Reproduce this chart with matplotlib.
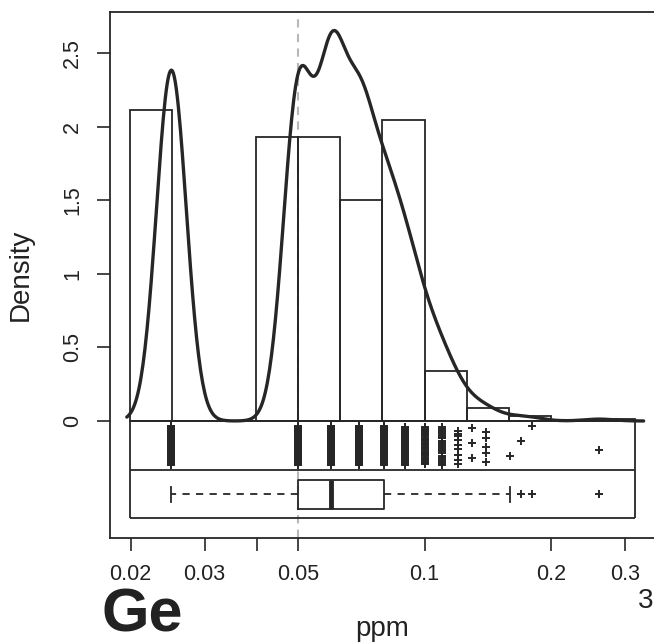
import numpy as np
import matplotlib
matplotlib.use("Agg")
import matplotlib.pyplot as plt
from matplotlib import cbook
from matplotlib.ticker import NullLocator

plt.rcParams['font.family'] = ['Liberation Sans', 'DejaVu Sans']

# ---------------- data ----------------
ppm_values = [0.025, 0.05, 0.06, 0.07, 0.08, 0.09, 0.10, 0.11, 0.12,
              0.13, 0.14, 0.16, 0.17, 0.18, 0.26]
ppm_counts = [186, 170, 170, 132, 87, 62, 31, 21, 9, 3, 5, 1, 1, 1, 1]
bin_edges_log10 = [-1.7, -1.6, -1.5, -1.4, -1.3, -1.2, -1.1, -1.0,
                   -0.9, -0.8, -0.7, -0.6, -0.5]
reference_ppm = 0.05
x_ticks = [0.02, 0.03, 0.04, 0.05, 0.1, 0.2, 0.3]
x_tick_labels = ['0.02', '0.03', '', '0.05', '0.1', '0.2', '0.3']
y_ticks = [0, 0.5, 1, 1.5, 2, 2.5]
y_tick_labels = ['0', '0.5', '1', '1.5', '2', '2.5']
element = 'Ge'
panel_number = '3'

# ---------------- derived ----------------
INK = '#262626'
logv = np.log10(np.array(ppm_values))
counts = np.array(ppm_counts)
data_log = np.repeat(logv, counts)
N = data_log.size
edges = np.array(bin_edges_log10)
bw_step = edges[1] - edges[0]

# histogram (R style right-closed bins) in log10 units
idx = np.digitize(data_log, edges, right=True)
bin_counts = np.bincount(idx, minlength=len(edges) + 1)[1:len(edges)]
hist_density = bin_counts / (N * bw_step)
lefts = 10 ** edges[:-1]
rights = 10 ** edges[1:]

# kernel density (bw.nrd0) in log10 units
sd = data_log.std(ddof=1)
iqr = np.percentile(data_log, 75) - np.percentile(data_log, 25)
bw = 0.9 * min(sd, iqr / 1.34) * N ** (-0.2)
grid = np.linspace(data_log.min() - 3 * bw, data_log.max() + 3 * bw, 512)
kde = (counts[None, :] * np.exp(-0.5 * ((grid[:, None] - logv[None, :]) / bw) ** 2)).sum(1)
kde /= N * bw * np.sqrt(2 * np.pi)

# ---------------- figure ----------------
fig = plt.figure(figsize=(6.54, 6.44), dpi=100)
ax = fig.add_axes([110 / 654, 1 - 538 / 644, 545 / 654, 526 / 644])
ax.set_xscale('log')

ax.axvline(reference_ppm, color='#b8b8b8', ls=(0, (4, 3)), lw=1.5, zorder=0.5)

ax.bar(lefts, hist_density, width=rights - lefts, align='edge', fill=False,
       edgecolor=INK, lw=1.3, zorder=2)

ax.plot(10 ** grid, kde, color=INK, lw=2.4, zorder=3, solid_capstyle='round')

# strip panel
xmin, xmax = 10 ** edges[0], 10 ** edges[-1]
ax.hlines([0, -0.333, -0.66], xmin, xmax, color=INK, lw=1.3, zorder=2)
ax.vlines([xmin, xmax], -0.66, 0, color=INK, lw=1.3, zorder=2)

# jittered points (deterministic low-discrepancy jitter)
k = np.arange(N)
jit = np.mod(k * 0.6180339887 + 0.37, 1.0)
jy = -0.035 - 0.265 * jit
ax.plot(10 ** data_log, jy, ls='none', marker='+', ms=6, mew=1.4,
        color=INK, zorder=3)

# boxplot computed on log10 data
st = cbook.boxplot_stats(data_log, whis=1.5)[0]
for key in ['med', 'q1', 'q3', 'whislo', 'whishi', 'mean', 'cilo', 'cihi']:
    st[key] = 10 ** st[key]
st['fliers'] = 10 ** np.asarray(st['fliers'])
ax.bxp([st], positions=[-0.5], widths=0.2, orientation='horizontal',
       manage_ticks=False, showfliers=True,
       boxprops=dict(color=INK, lw=1.3),
       whiskerprops=dict(color=INK, lw=1.3, ls=(0, (4, 3.5))),
       capprops=dict(color=INK, lw=1.3),
       medianprops=dict(color=INK, lw=3.5, solid_capstyle='butt'),
       flierprops=dict(marker='+', ms=6, mew=1.4, mec=INK, ls='none'))

ax.set_xlim(10 ** -1.748, 10 ** -0.452)
ax.set_ylim(-0.796, 2.782)

ax.set_xticks(x_ticks)
ax.set_xticklabels(x_tick_labels)
ax.xaxis.set_minor_locator(NullLocator())
ax.set_yticks(y_ticks)
ax.set_yticklabels(y_tick_labels, rotation=90, va='center')

ax.tick_params(axis='both', direction='out', length=9.5, width=1.2,
               color=INK, labelcolor='#222222', labelsize=15.5)
ax.tick_params(axis='x', pad=9)
ax.tick_params(axis='y', pad=10)

for s in ['left', 'top', 'bottom']:
    ax.spines[s].set_color(INK)
    ax.spines[s].set_linewidth(1.3)
ax.spines['right'].set_visible(False)

ax.set_ylabel('Density', fontsize=20, color='#222222', va='center')
ax.yaxis.set_label_coords(-0.163, 0.5)
ax.set_xlabel('ppm', fontsize=20, color='#222222', va='baseline')
ax.xaxis.set_label_coords(0.5, (538 - 636) / 526)

fig.text(102 / 654, 1 - 631 / 644, element, fontsize=44, fontweight='bold',
         color='#222222', ha='left', va='baseline')
fig.text(653 / 654, 1 - 608 / 644, panel_number, fontsize=20, color='#222222',
         ha='right', va='baseline')

fig.savefig('out.png', dpi=100)
